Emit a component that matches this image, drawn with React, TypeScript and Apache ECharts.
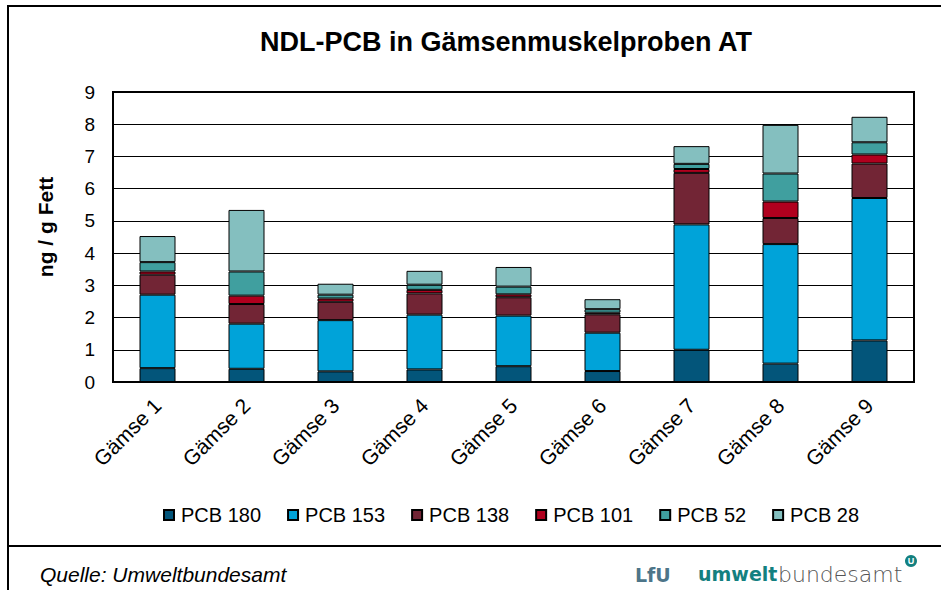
import React, { useEffect, useRef } from "react";
import * as echarts from "echarts";

const categories = ["Gämse 1", "Gämse 2", "Gämse 3", "Gämse 4", "Gämse 5", "Gämse 6", "Gämse 7", "Gämse 8", "Gämse 9"];
const seriesNames = ["PCB 180", "PCB 153", "PCB 138", "PCB 101", "PCB 52", "PCB 28"];
const pcb180 = [0.43, 0.41, 0.33, 0.39, 0.49, 0.34, 1.0, 0.57, 1.29];
const pcb153 = [2.28, 1.4, 1.59, 1.7, 1.57, 1.19, 3.89, 3.71, 4.42];
const pcb138 = [0.62, 0.61, 0.57, 0.66, 0.57, 0.57, 1.6, 0.81, 1.07];
const pcb101 = [0.1, 0.26, 0.1, 0.11, 0.09, 0.05, 0.12, 0.51, 0.28];
const pcb52 = [0.29, 0.75, 0.12, 0.16, 0.24, 0.11, 0.16, 0.87, 0.38];
const pcb28 = [0.81, 1.91, 0.34, 0.43, 0.61, 0.31, 0.55, 1.51, 0.79];
const yTicks = [0, 1, 2, 3, 4, 5, 6, 7, 8, 9];

const colors = ["#03557a", "#00a3d9", "#722535", "#b0001e", "#409f9f", "#84bfbf"];
const FONT = "'Liberation Sans', Arial, sans-serif";

export default function App() {
  const ref = useRef<HTMLDivElement>(null);
  useEffect(() => {
    if (!ref.current) return;
    const chart = echarts.init(ref.current, null, { renderer: "svg" });
    const values = [pcb180, pcb153, pcb138, pcb101, pcb52, pcb28];
    chart.setOption({
      animation: false,
      backgroundColor: "#ffffff",
      textStyle: { fontFamily: FONT },
      title: {
        text: "NDL-PCB in Gämsenmuskelproben AT",
        left: 501,
        textAlign: "center",
        top: 23,
        textStyle: { fontFamily: FONT, fontSize: 27, fontWeight: "bold", color: "#000" },
      },
      grid: {
        left: 113,
        right: 27,
        top: 92,
        bottom: 208,
        show: true,
        borderColor: "#000",
        borderWidth: 2,
        backgroundColor: "transparent",
      },
      legend: {
        data: seriesNames,
        left: 158,
        top: 500,
        icon: "rect",
        itemWidth: 10,
        itemHeight: 10,
        itemGap: 26,
        textStyle: { fontFamily: FONT, fontSize: 20, color: "#000", padding: [0, 0, 0, 2] },
      },
      xAxis: {
        type: "category",
        data: categories,
        axisLine: { show: true, lineStyle: { color: "#000", width: 2 } },
        axisTick: { show: false },
        axisLabel: { interval: 0, rotate: 45, fontSize: 21, color: "#000", margin: 20, fontFamily: FONT },
      },
      yAxis: {
        type: "value",
        min: yTicks[0],
        max: yTicks[yTicks.length - 1],
        interval: 1,
        axisLine: { show: true, lineStyle: { color: "#000", width: 2 } },
        axisTick: { show: false },
        axisLabel: { fontSize: 19, color: "#000", margin: 18, fontFamily: FONT },
        splitLine: { show: true, lineStyle: { color: "#000", width: 1 } },
      },
      series: seriesNames.map((name, i) => ({
        name,
        type: "bar",
        stack: "total",
        data: values[i],
        barWidth: 36,
        itemStyle: { color: colors[i], borderColor: "#000", borderWidth: 1 },
      })),
      graphic: [
        {
          type: "polyline",
          shape: { points: [[941, 6], [8, 6], [8, 590]] },
          style: { stroke: "#000", lineWidth: 2, fill: "none" },
          silent: true,
        },
        {
          type: "line",
          shape: { x1: 8, y1: 546, x2: 941, y2: 546 },
          style: { stroke: "#000", lineWidth: 2 },
          silent: true,
        },
        {
          type: "text",
          x: 45,
          y: 227,
          rotation: Math.PI / 2,
          style: {
            text: "ng / g Fett",
            fontFamily: FONT,
            fontSize: 21,
            fontWeight: "bold",
            fill: "#000",
            textAlign: "center",
            textVerticalAlign: "middle",
          },
        },
        {
          type: "text",
          x: 40,
          y: 574,
          style: {
            text: "Quelle: Umweltbundesamt",
            fontFamily: FONT,
            fontSize: 21,
            fontStyle: "italic",
            fill: "#000",
            textAlign: "left",
            textVerticalAlign: "middle",
          },
        },
        {
          type: "text",
          x: 635,
          y: 575,
          style: {
            text: "LfU",
            fontFamily: "'DejaVu Sans', sans-serif",
            fontSize: 19,
            fontWeight: "bold",
            fill: "#4d7589",
            textAlign: "left",
            textVerticalAlign: "middle",
          },
        },
        {
          type: "text",
          x: 698,
          y: 574,
          style: {
            text: "umwelt",
            fontFamily: "'DejaVu Sans', sans-serif",
            fontSize: 19,
            fontWeight: "bold",
            fill: "#138080",
            textAlign: "left",
            textVerticalAlign: "middle",
          },
        },
        {
          type: "text",
          x: 778,
          y: 574,
          style: {
            text: "bundesamt",
            fontFamily: "'DejaVu Sans', sans-serif",
            fontSize: 22,
            fontWeight: 300,
            fill: "#555555",
            textAlign: "left",
            textVerticalAlign: "middle",
          },
        },
        {
          type: "circle",
          shape: { cx: 911, cy: 561, r: 6 },
          style: { fill: "#138080" },
        },
        {
          type: "text",
          x: 911,
          y: 561,
          style: {
            text: "U",
            fontFamily: FONT,
            fontSize: 9,
            fontWeight: "bold",
            fill: "#ffffff",
            textAlign: "center",
            textVerticalAlign: "middle",
          },
        },
      ],
    });
    return () => chart.dispose();
  }, []);
  return (
    <div
      ref={ref}
      style={{ position: "fixed", left: 0, top: 0, width: 941, height: 590, background: "#fff" }}
    />
  );
}
